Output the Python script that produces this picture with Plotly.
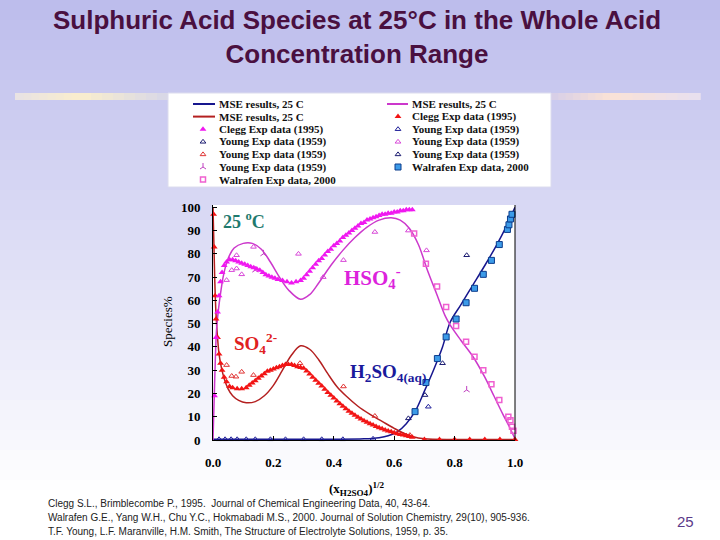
import plotly.graph_objects as go

W, H = 720, 540

# ---------------- data ----------------
# MSE model curves (x = sqrt of H2SO4 mole fraction, y = species %)
mse_h2so4_x = [0.0, 0.1, 0.2, 0.3, 0.4, 0.5, 0.55, 0.58, 0.61, 0.64, 0.67, 0.70, 0.73,
               0.76, 0.785, 0.82, 0.86, 0.90, 0.94, 0.97, 1.0]
mse_h2so4_y = [0.3, 0.3, 0.3, 0.3, 0.3, 0.5, 1.0, 1.8, 3.5, 7.0, 12.5, 21, 30,
               40, 50.5, 58, 66.5, 75, 84, 91.5, 100]

mse_hso4_x = [0.0, 0.004, 0.008, 0.012, 0.018, 0.025, 0.035, 0.05, 0.07, 0.10, 0.13, 0.16,
              0.19, 0.22, 0.25, 0.29, 0.32, 0.35, 0.39, 0.43, 0.47, 0.51, 0.55, 0.59,
              0.62, 0.65, 0.68, 0.71, 0.74, 0.77, 0.785, 0.82, 0.86, 0.90, 0.93, 0.96,
              0.98, 1.0]
mse_hso4_y = [0.0, 18, 36, 48, 56, 63, 71, 78, 82.5, 84.5, 84.5, 82,
              76.5, 70, 64.5, 60.5, 62.5, 67.5, 75, 81.5, 87, 91.5, 94.5, 95.5,
              94.5, 91, 84, 73, 63, 53, 49.5, 43, 36, 27, 19, 11,
              6, 0.5]

mse_so4_x = [0.0, 0.003, 0.006, 0.01, 0.015, 0.02, 0.028, 0.038, 0.05, 0.065, 0.085,
             0.11, 0.14, 0.17, 0.2, 0.23, 0.26, 0.29, 0.32, 0.35, 0.38, 0.41, 0.44,
             0.48, 0.52, 0.56, 0.6, 0.63, 0.66, 0.7, 0.8, 0.9, 1.0]
mse_so4_y = [100, 84, 68, 54, 44, 37, 31, 26, 22, 19, 17,
             16, 16.5, 19, 23.5, 30, 36.5, 40.5, 39, 34.5, 28.5, 23, 19,
             14.5, 11, 8, 5, 3, 1.5, 0.5, 0.2, 0.2, 0.2]

# Clegg Exp data (1995)
clegg_hso4_x = [0.005, 0.01, 0.015, 0.02, 0.025, 0.03, 0.037, 0.045, 0.055, 0.065, 0.075,
                0.085, 0.095, 0.105, 0.115, 0.125, 0.135, 0.145, 0.155, 0.165, 0.175,
                0.185, 0.195, 0.205, 0.215, 0.23, 0.245, 0.26, 0.275, 0.29, 0.30, 0.31,
                0.32, 0.33, 0.34, 0.35, 0.36, 0.37, 0.38, 0.39, 0.40, 0.41, 0.42, 0.43,
                0.44, 0.45, 0.46, 0.47, 0.48, 0.49, 0.50, 0.51, 0.52, 0.53, 0.54, 0.55,
                0.56, 0.57, 0.58, 0.59, 0.60, 0.61, 0.62, 0.63, 0.64, 0.65, 0.66]
clegg_hso4_y = [19, 44, 55, 62, 68, 72, 75, 76.5, 77.5, 77.5, 77,
                76.5, 76, 75.5, 75, 74.5, 74, 73.5, 73, 72, 71,
                70.5, 70, 69.5, 69, 68.5, 68, 67.5, 68, 68.5, 69.5, 71,
                72.5, 74, 75.5, 77, 78, 79.5, 81, 82, 83.5, 84.5, 85.5, 87,
                88, 89, 90, 91, 92, 93, 93.5, 94.5, 95, 95.5, 96, 96.5,
                97, 97, 97.5, 97.5, 98, 98, 98.5, 98.5, 99, 99, 99]

clegg_so4_x = [0.002, 0.004, 0.007, 0.01, 0.015, 0.02, 0.025, 0.03, 0.037, 0.045, 0.055,
               0.065, 0.08, 0.095, 0.11, 0.12, 0.13, 0.14, 0.15, 0.16, 0.17, 0.18, 0.19,
               0.20, 0.21, 0.22, 0.23, 0.24, 0.25, 0.26, 0.27, 0.28, 0.29, 0.30, 0.31,
               0.32, 0.33, 0.34, 0.35, 0.36, 0.37, 0.38, 0.39, 0.40, 0.41, 0.42, 0.43,
               0.44, 0.45, 0.46, 0.47, 0.48, 0.49, 0.50, 0.51, 0.52, 0.53, 0.54, 0.55,
               0.56, 0.57, 0.58, 0.59, 0.60, 0.61, 0.62, 0.63, 0.64, 0.65, 0.66, 0.70,
               0.75, 0.80, 0.85, 0.90, 0.95, 1.0]
clegg_so4_y = [97, 83, 62, 52, 44, 37, 33, 30, 27, 25, 23,
               22.5, 22, 22, 22.5, 23.5, 24.5, 25.5, 26.5, 27.5, 28.5, 29.5, 30,
               30.5, 31, 31.5, 32, 32.5, 32.5, 32.5, 32, 31.5, 31.2, 30.8, 29.7,
               28.4, 27, 25.7, 24.4, 23.2, 21.8, 20.4, 19.2, 18, 16.8, 15.6, 14.5,
               13.4, 12.4, 11.5, 10.6, 9.8, 9, 8.3, 7.6, 7, 6.4, 5.8, 5.3,
               4.8, 4.3, 3.9, 3.5, 3.1, 2.7, 2.4, 2.1, 1.8, 1.5, 1.2, 0.2,
               0.2, 0.2, 0.2, 0.2, 0.2, 0.2]

# Young Exp data (1959)
young_h2so4_a_x = [0.647, 0.702, 0.76, 0.84]
young_h2so4_a_y = [9.3, 19.3, 33, 79.4]
young_h2so4_b_x = [0.02, 0.04, 0.06, 0.08, 0.11, 0.14, 0.19, 0.24, 0.30, 0.36, 0.43, 0.53, 0.713]
young_h2so4_b_y = [0.3, 0.3, 0.3, 0.3, 0.3, 0.3, 0.3, 0.3, 0.3, 0.3, 0.3, 0.5, 14.3]
young_so4_x = [0.045, 0.062, 0.076, 0.095, 0.134, 0.288, 0.432, 0.536, 0.652]
young_so4_y = [32.2, 27.5, 27.2, 29.3, 27.9, 33, 23, 10.3, 2.1]
young_hso4_x = [0.045, 0.062, 0.078, 0.078, 0.095, 0.134, 0.283, 0.365, 0.432, 0.536, 0.647, 0.707]
young_hso4_y = [68.7, 73, 73.7, 79.4, 71.2, 83, 80, 70, 77.3, 89.4, 90, 81.5]
young_hso4_c_x = [0.14, 0.167, 0.84]
young_hso4_c_y = [73, 80, 21.5]

# Walrafen Exp data, 2000
walrafen_h2so4_x = [0.669, 0.705, 0.743, 0.772, 0.805, 0.838, 0.866, 0.895, 0.922, 0.948,
                    0.975, 0.98, 0.985, 0.99]
walrafen_h2so4_y = [12.2, 24.7, 35, 44.3, 52, 59, 65.2, 71.2, 77.2, 84,
                    90.5, 92.5, 95, 97]
walrafen_hso4_x = [0.666, 0.705, 0.742, 0.772, 0.805, 0.838, 0.866, 0.895, 0.922, 0.948,
                   0.978, 0.985, 0.99, 0.995]
walrafen_hso4_y = [88.7, 75.8, 66, 57.2, 49, 42.2, 35.8, 30, 24, 17.2,
                   10, 8.5, 5.7, 4]

x_tick_vals = [0.0, 0.2, 0.4, 0.6, 0.8, 1.0]
x_tick_text = ["0.0", "0.2", "0.4", "0.6", "0.8", "1.0"]
y_tick_vals = [0, 10, 20, 30, 40, 50, 60, 70, 80, 90, 100]

legend_label_mse = "MSE results, 25 C"
legend_label_clegg = "Clegg Exp data (1995)"
legend_label_young = "Young Exp data (1959)"
legend_label_walrafen = "Walrafen Exp data, 2000"

refs = [
    "Clegg S.L., Brimblecombe P., 1995.  Journal of Chemical Engineering Data, 40, 43-64.",
    "Walrafen G.E., Yang W.H., Chu Y.C., Hokmabadi M.S., 2000. Journal of Solution Chemistry, 29(10), 905-936.",
    "T.F. Young, L.F. Maranville, H.M. Smith, The Structure of Electrolyte Solutions, 1959, p. 35.",
]

# ---------------- styles ----------------
NAVY = "#16168e"
DARKRED = "#b42020"
MAG_LINE = "#cc38cc"
MAGENTA = "#f018f0"
RED = "#f21414"
SERIF = "Liberation Serif, Times New Roman, serif"
SANS = "Liberation Sans, Arial, sans-serif"

line_styles = {
    "h2so4": dict(color=NAVY, width=1.5),
    "so4": dict(color=DARKRED, width=1.5),
    "hso4": dict(color=MAG_LINE, width=1.5),
}
marker_styles = {
    "clegg_hso4": dict(symbol="triangle-up", size=6, color=MAGENTA, line=dict(width=0)),
    "clegg_so4": dict(symbol="triangle-up", size=6, color=RED, line=dict(width=0)),
    "young_h2so4_a": dict(symbol="triangle-up-open", size=5, color="#1a1a70", line=dict(width=1)),
    "young_h2so4_b": dict(symbol="triangle-up-open", size=5, color="#20209a", line=dict(width=1)),
    "young_so4": dict(symbol="triangle-up-open", size=5, color="#e03434", line=dict(width=1)),
    "young_hso4": dict(symbol="triangle-up-open", size=5, color="#d848d8", line=dict(width=1)),
    "young_hso4_c": dict(symbol="y-up", size=5, color="#c040c0", line=dict(width=1, color="#c040c0")),
    "walrafen_hso4": dict(symbol="square-open", size=5, color="#f060d0", line=dict(width=1.5)),
    "walrafen_h2so4": dict(symbol="square", size=6, color="#3c9be8", line=dict(width=1, color="#0c3c8c")),
}

fig = go.Figure()

# model lines
fig.add_trace(go.Scatter(x=mse_h2so4_x, y=mse_h2so4_y, mode="lines", line=line_styles["h2so4"],
                         name=legend_label_mse, line_shape="spline", cliponaxis=False))
fig.add_trace(go.Scatter(x=mse_so4_x, y=mse_so4_y, mode="lines", line=line_styles["so4"],
                         name=legend_label_mse, line_shape="spline", cliponaxis=False))
fig.add_trace(go.Scatter(x=mse_hso4_x, y=mse_hso4_y, mode="lines", line=line_styles["hso4"],
                         name=legend_label_mse, line_shape="spline", cliponaxis=False))

# experimental data
series = [
    (young_h2so4_b_x, young_h2so4_b_y, "young_h2so4_b", legend_label_young),
    (young_h2so4_a_x, young_h2so4_a_y, "young_h2so4_a", legend_label_young),
    (young_so4_x, young_so4_y, "young_so4", legend_label_young),
    (young_hso4_x, young_hso4_y, "young_hso4", legend_label_young),
    (young_hso4_c_x, young_hso4_c_y, "young_hso4_c", legend_label_young),
    (clegg_so4_x, clegg_so4_y, "clegg_so4", legend_label_clegg),
    (clegg_hso4_x, clegg_hso4_y, "clegg_hso4", legend_label_clegg),
    (walrafen_hso4_x, walrafen_hso4_y, "walrafen_hso4", legend_label_walrafen),
    (walrafen_h2so4_x, walrafen_h2so4_y, "walrafen_h2so4", legend_label_walrafen),
]
for sx, sy, key, nm in series:
    fig.add_trace(go.Scatter(x=sx, y=sy, mode="markers", marker=marker_styles[key],
                             name=nm, cliponaxis=False))

# ---------------- legend box (two columns, drawn on its own hidden axis) ----------------
BOX_L, BOX_R, BOX_T, BOX_B = 168, 551, 93, 187
ROW0, ROW_DY = 11, 12.6
columns = [
    dict(line_x=(25, 47), mark_x=35, text_x=49, entries=[
        ("line", "h2so4", legend_label_mse),
        ("line", "so4", legend_label_mse),
        ("marker", "clegg_hso4", legend_label_clegg),
        ("marker", "young_h2so4_a", legend_label_young),
        ("marker", "young_so4", legend_label_young),
        ("marker", "young_hso4_c", legend_label_young),
        ("marker", "walrafen_hso4", legend_label_walrafen),
    ]),
    dict(line_x=(219, 240), mark_x=230, text_x=242, entries=[
        ("line", "hso4", legend_label_mse),
        ("marker", "clegg_so4", legend_label_clegg),
        ("marker", "young_h2so4_b", legend_label_young),
        ("marker", "young_hso4", legend_label_young),
        ("marker", "young_h2so4_a", legend_label_young),
        ("marker", "walrafen_h2so4", legend_label_walrafen),
    ]),
]
annotations = []
for col in columns:
    for i, (kind, key, label) in enumerate(col["entries"]):
        ry = ROW0 + i * ROW_DY
        if kind == "line":
            fig.add_trace(go.Scatter(x=list(col["line_x"]), y=[ry, ry], mode="lines",
                                     line=dict(color=line_styles[key]["color"], width=2),
                                     xaxis="x2", yaxis="y2", hoverinfo="skip"))
        else:
            fig.add_trace(go.Scatter(x=[col["mark_x"]], y=[ry], mode="markers",
                                     marker=marker_styles[key], xaxis="x2", yaxis="y2",
                                     hoverinfo="skip"))
        annotations.append(dict(x=col["text_x"], y=ry, xref="x2", yref="y2",
                                text="<b>%s</b>" % label,
                                showarrow=False, xanchor="left", yanchor="middle",
                                font=dict(family=SERIF, size=11, color="#111111")))

# ---------------- slide decorations ----------------
shapes = []
# background gradient
N = 54
top_c, bot_c = (189, 189, 236), (255, 255, 255)
for k in range(N):
    t = k / (N - 1)
    c = tuple(round(top_c[j] + (bot_c[j] - top_c[j]) * min(1.0, t * 1.08)) for j in range(3))
    shapes.append(dict(type="rect", xref="paper", yref="paper", x0=0, x1=1,
                       y0=1 - (k + 1) / N, y1=1 - k / N, fillcolor="rgb(%d,%d,%d)" % c,
                       line=dict(width=0), layer="below"))
# decorative bar under the title
bar_stops = [(15, (232, 226, 228)), (80, (250, 238, 205)), (168, (215, 215, 232)),
             (360, (140, 170, 232)), (551, (214, 206, 232)), (610, (250, 226, 214)),
             (700, (232, 224, 240))]
for s in range(len(bar_stops) - 1):
    (xa, ca), (xb, cb) = bar_stops[s], bar_stops[s + 1]
    steps = 8
    for m in range(steps):
        t = (m + 0.5) / steps
        c = tuple(round(ca[j] + (cb[j] - ca[j]) * t) for j in range(3))
        x0 = xa + (xb - xa) * m / steps
        x1 = xa + (xb - xa) * (m + 1) / steps
        shapes.append(dict(type="rect", xref="paper", yref="paper", x0=x0 / W, x1=x1 / W + 0.001,
                           y0=1 - 100 / H, y1=1 - 93 / H, fillcolor="rgb(%d,%d,%d)" % c,
                           line=dict(width=0), layer="below"))
# legend box
shapes.append(dict(type="rect", xref="paper", yref="paper", x0=BOX_L / W, x1=BOX_R / W,
                   y0=1 - BOX_B / H, y1=1 - BOX_T / H, fillcolor="white",
                   line=dict(width=1, color="#dcdcee"), layer="below"))

# plot area geometry
PL, PR, PT, PB = 213, 515, 205, 440
YMAX = 101
shapes.append(dict(type="rect", xref="paper", yref="paper", x0=PL / W, x1=PR / W,
                   y0=1 - PB / H, y1=1 - PT / H, fillcolor="white", line=dict(width=0),
                   layer="below"))
shapes.append(dict(type="line", xref="x domain", yref="y domain", x0=1, x1=1, y0=0, y1=1,
                   line=dict(color="black", width=1)))

# ---------------- text ----------------
annotations += [
    dict(x=0.496, y=1 - 37 / H, xref="paper", yref="paper", showarrow=False,
         text="<b>Sulphuric Acid Species at 25°C in the Whole Acid<br>Concentration Range</b>",
         font=dict(family=SANS, size=26, color="#4a1040"), xanchor="center", yanchor="middle"),
    dict(x=0.026, y=94.5, xref="x", yref="y", showarrow=False, text="<b>25 <sup>o</sup>C</b>",
         font=dict(family=SERIF, size=18, color="#1f7a6e"), xanchor="left", yanchor="middle"),
    dict(x=0.427, y=70, xref="x", yref="y", showarrow=False,
         text="<b>HSO<sub>4</sub><sup>-</sup></b>",
         font=dict(family=SERIF, size=21, color="#dc22dc"), xanchor="left", yanchor="middle"),
    dict(x=0.063, y=41.5, xref="x", yref="y", showarrow=False,
         text="<b>SO<sub>4</sub><sup>2-</sup></b>",
         font=dict(family=SERIF, size=19, color="#e02020"), xanchor="left", yanchor="middle"),
    dict(x=0.447, y=29, xref="x", yref="y", showarrow=False,
         text="<b>H<sub>2</sub>SO<sub>4(aq)</sub></b>",
         font=dict(family=SERIF, size=19, color="#1a1a9c"), xanchor="left", yanchor="middle"),
    dict(x=167 / W, y=1 - 322 / H, xref="paper", yref="paper", showarrow=False,
         text="Species%", textangle=-90, font=dict(family=SERIF, size=13, color="black"),
         xanchor="center", yanchor="middle"),
    dict(x=357 / W, y=1 - 489 / H, xref="paper", yref="paper", showarrow=False,
         text="<b>(x<sub>H2SO4</sub>)<sup>1/2</sup></b>",
         font=dict(family=SERIF, size=13, color="black"),
         xanchor="center", yanchor="middle"),
    dict(x=685 / W, y=1 - 521 / H, xref="paper", yref="paper", showarrow=False, text="25",
         font=dict(family=SANS, size=15, color="#5b3a8a"), xanchor="center", yanchor="middle"),
]
for i, r in enumerate(refs):
    annotations.append(dict(x=46 / W, y=1 - (503 + i * 14.3) / H, xref="paper", yref="paper",
                            showarrow=False, text=r, xanchor="left", yanchor="middle",
                            font=dict(family=SANS, size=10, color="#222222")))

fig.update_layout(
    width=W, height=H, margin=dict(l=0, r=0, t=0, b=0),
    paper_bgcolor="white", plot_bgcolor="rgba(0,0,0,0)", showlegend=False,
    shapes=shapes, annotations=annotations,
    xaxis=dict(domain=[PL / W, PR / W], range=[0, 1], tickvals=x_tick_vals, ticktext=x_tick_text,
               showline=True, linecolor="black", linewidth=1, ticks="inside", ticklen=4,
               tickcolor="black", showgrid=False, zeroline=False, ticklabelstandoff=10,
               tickfont=dict(family=SERIF, size=13, color="black", weight="bold"),
               automargin=False, fixedrange=True),
    yaxis=dict(domain=[1 - PB / H, 1 - PT / H], range=[0, YMAX], tickvals=y_tick_vals,
               showline=True, linecolor="black", linewidth=1, ticks="inside", ticklen=4,
               tickcolor="black", showgrid=False, zeroline=False, ticklabelstandoff=9,
               tickfont=dict(family=SERIF, size=13, color="black", weight="bold"),
               automargin=False, fixedrange=True),
    xaxis2=dict(domain=[BOX_L / W, BOX_R / W], range=[0, BOX_R - BOX_L], visible=False,
                anchor="y2", fixedrange=True),
    yaxis2=dict(domain=[1 - BOX_B / H, 1 - BOX_T / H], range=[BOX_B - BOX_T, 0], visible=False,
                anchor="x2", fixedrange=True),
)

fig.write_html("out.html")
